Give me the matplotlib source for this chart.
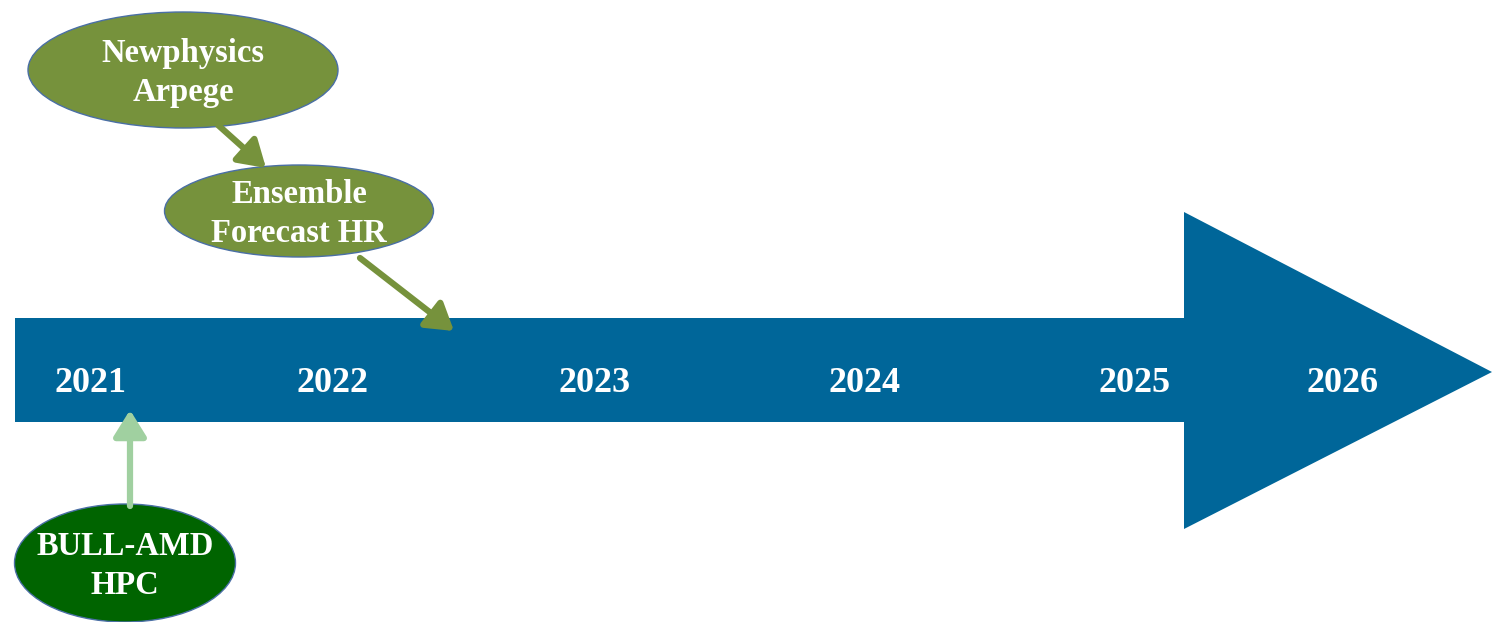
import matplotlib.pyplot as plt
from matplotlib.patches import Polygon, Ellipse

# timeline labels and where they sit along the big arrow (pixels)
years = ["2021", "2022", "2023", "2024", "2025", "2026"]
year_x = [90, 333, 595, 865, 1135, 1342]

# milestones
event_labels = ["Newphysics\nArpege", "Ensemble\nForecast HR", "BULL-AMD\nHPC"]
event_colors = ["#76923c", "#76923c", "#006400"]
event_boxes = [(183, 70, 310, 116), (299, 211, 269, 92), (125, 563, 221, 118)]

# connector arrows: start, end, colour
links = [((218, 125), (266, 168), "#76923c"),
         ((360, 258), (454, 331), "#76923c"),
         ((130, 506), (130, 410), "#a0d0a0")]

W, H = 1492, 622
fig = plt.figure(figsize=(W / 100, H / 100), dpi=100)
ax = fig.add_axes([0, 0, 1, 1])
ax.set_xlim(0, W)
ax.set_ylim(H, 0)
ax.axis("off")

blue = "#006699"
# big timeline arrow
arrow = Polygon([(15, 318), (1184, 318), (1184, 212), (1492, 372),
                 (1184, 529), (1184, 422), (15, 422)],
                closed=True, facecolor=blue, edgecolor="none")
ax.add_patch(arrow)

for lab, x in zip(years, year_x):
    ax.text(x, 383, lab, color="white", fontsize=26, fontweight="bold",
            family="Liberation Serif", ha="center", va="center")

for (x0, y0), (x1, y1), c in links:
    ax.annotate("", xy=(x1, y1), xytext=(x0, y0),
                arrowprops=dict(arrowstyle="-|>,head_length=0.8,head_width=0.5",
                                color=c, lw=4.5, shrinkA=0, shrinkB=0,
                                mutation_scale=20))

for lab, c, (cx, cy, w, h) in zip(event_labels, event_colors, event_boxes):
    ax.add_patch(Ellipse((cx, cy), w, h, facecolor=c, edgecolor="#4a6fa5", lw=1))
    ax.text(cx, cy + 3, lab, color="white", fontsize=23.5, fontweight="bold",
            family="Liberation Serif", ha="center", va="center", linespacing=1.32)

fig.savefig("out.png", dpi=100)
